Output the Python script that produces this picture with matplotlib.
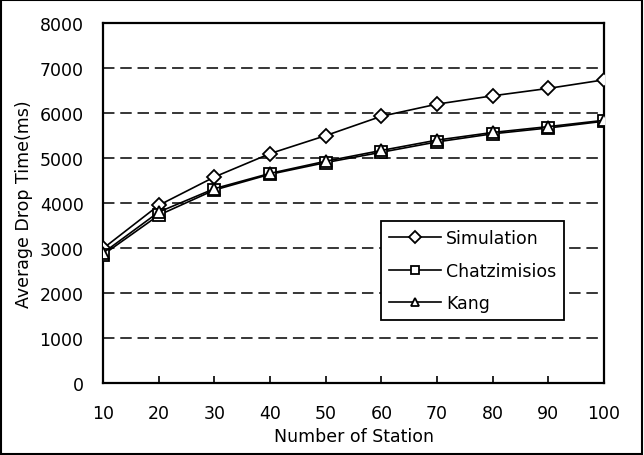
import matplotlib
matplotlib.use('Agg')
import matplotlib.pyplot as plt
from matplotlib.patches import Rectangle

# data
stations = [10, 20, 30, 40, 50, 60, 70, 80, 90, 100]
simulation = [2990, 3950, 4580, 5100, 5500, 5930, 6200, 6385, 6550, 6740]
chatzimisios = [2850, 3730, 4290, 4640, 4900, 5130, 5360, 5540, 5670, 5820]
kang = [2890, 3800, 4320, 4660, 4930, 5170, 5400, 5570, 5700, 5840]
y_ticks = [0, 1000, 2000, 3000, 4000, 5000, 6000, 7000, 8000]

plt.rcParams.update({'font.family': 'DejaVu Sans', 'font.size': 12.5})

fig = plt.figure(figsize=(6.44, 4.56), dpi=100)
ax = fig.add_axes([0.160, 0.158, 0.778, 0.789])

# outer frame around the whole picture
fig.patches.append(Rectangle((0.002, 0.003), 0.995, 0.994, transform=fig.transFigure,
                             fill=False, edgecolor='black', linewidth=1.5))

for yv in y_ticks[1:-1]:
    ax.axhline(yv, xmax=0.99, color='black', linestyle=(0, (7.5, 3.8)), linewidth=1.1, zorder=1)

line_kw = dict(color='black', linewidth=1.2, markersize=8, markerfacecolor='white',
               markeredgecolor='black', markeredgewidth=1.3, zorder=3)
ax.plot(stations, simulation, marker='D', label='Simulation', **dict(line_kw, markersize=7.5))
ax.plot(stations, chatzimisios, marker='s', label='Chatzimisios', **line_kw)
ax.plot(stations, kang, marker='^', label='Kang', **line_kw)

ax.set_xlim(10, 100)
ax.set_ylim(0, 8000)
ax.set_xticks(stations)
ax.set_yticks(y_ticks)
ax.tick_params(axis='x', direction='in', length=5, width=1.2, pad=15)
ax.tick_params(axis='y', length=0, pad=14)
for s in ax.spines.values():
    s.set_linewidth(1.6)

ax.set_xlabel('Number of Station', labelpad=3.5)
ax.set_ylabel('Average Drop Time(ms)', labelpad=5)

leg = ax.legend(loc='upper left', bbox_to_anchor=(0.555, 0.45), frameon=True, fancybox=False,
                edgecolor='black', framealpha=1, borderpad=0.45, labelspacing=0.85,
                handlelength=3.0, handletextpad=0.3, markerscale=0.75, borderaxespad=0)
leg.get_frame().set_linewidth(1.3)

fig.savefig('out.png', dpi=100, facecolor='white')
